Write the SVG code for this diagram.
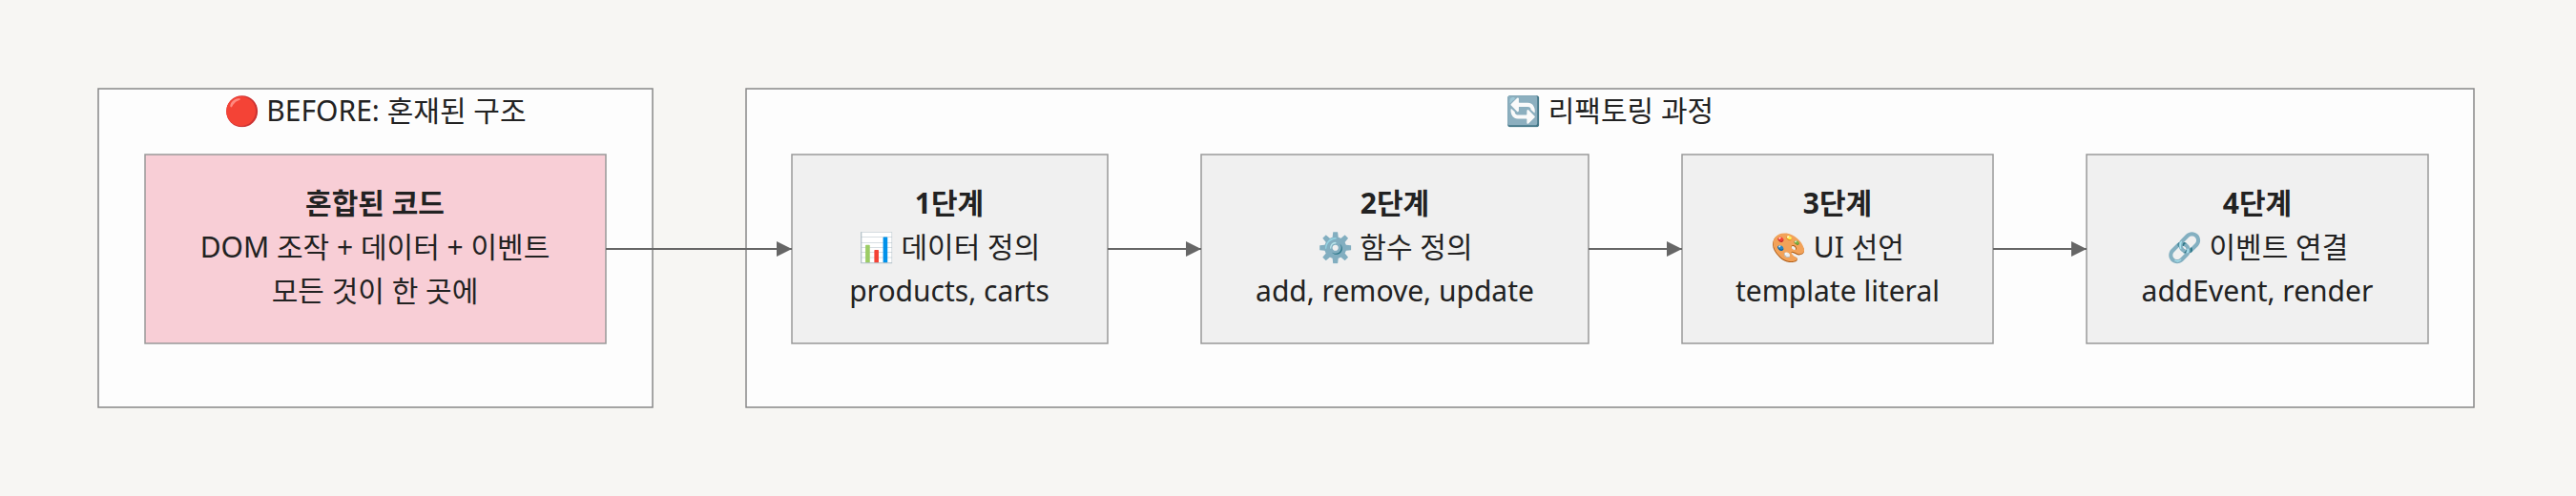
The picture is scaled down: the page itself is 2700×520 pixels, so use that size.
<svg xmlns="http://www.w3.org/2000/svg" width="2700" height="520" viewBox="0 0 2700 520">
<style>
text{font-family:"Noto Sans","Noto Sans CJK KR",sans-serif;font-size:30px;fill:#222;text-anchor:middle}
.b{font-weight:bold}
.cl{fill:#fdfdfd;stroke:#888;stroke-width:1.5}
.n{fill:#f0f0f0;stroke:#999;stroke-width:1.5}
.e{stroke:#666;stroke-width:2;fill:none;marker-end:url(#a)}
</style>
<defs><marker id="a" viewBox="0 0 10 10" refX="10" refY="5" markerWidth="8" markerHeight="8" orient="auto"><path d="M0,0L10,5L0,10z" fill="#666"/></marker></defs>
<rect width="2700" height="520" fill="#f7f6f3"/>
<g id="before"><rect class="cl" x="103" y="93" width="581" height="334"/><text x="393" y="127">🔴 BEFORE: 혼재된 구조</text></g>
<g id="refactor"><rect class="cl" x="782" y="93" width="1811" height="334"/><text x="1687" y="127">🔄 리팩토링 과정</text></g>
<g id="mixed"><rect x="152" y="162" width="483" height="198" fill="#f8ced6" stroke="#999" stroke-width="1.5"/><text class="b" x="393" y="224">혼합된 코드</text><text x="393" y="270">DOM 조작 + 데이터 + 이벤트</text><text x="393" y="316">모든 것이 한 곳에</text></g>
<g id="s1"><rect class="n" x="830" y="162" width="331" height="198"/><text class="b" x="995" y="224">1단계</text><text x="995" y="270">📊 데이터 정의</text><text x="995" y="316">products, carts</text></g>
<g id="s2"><rect class="n" x="1259" y="162" width="406" height="198"/><text class="b" x="1462" y="224">2단계</text><text x="1462" y="270">⚙️ 함수 정의</text><text x="1462" y="316">add, remove, update</text></g>
<g id="s3"><rect class="n" x="1763" y="162" width="326" height="198"/><text class="b" x="1926" y="224">3단계</text><text x="1926" y="270">🎨 UI 선언</text><text x="1926" y="316">template literal</text></g>
<g id="s4"><rect class="n" x="2187" y="162" width="358" height="198"/><text class="b" x="2366" y="224">4단계</text><text x="2366" y="270">🔗 이벤트 연결</text><text x="2366" y="316">addEvent, render</text></g>
<g id="edges">
<path class="e" d="M635,261H830"/><path class="e" d="M1161,261H1259"/><path class="e" d="M1665,261H1763"/><path class="e" d="M2089,261H2187"/>
</g>
</svg>
